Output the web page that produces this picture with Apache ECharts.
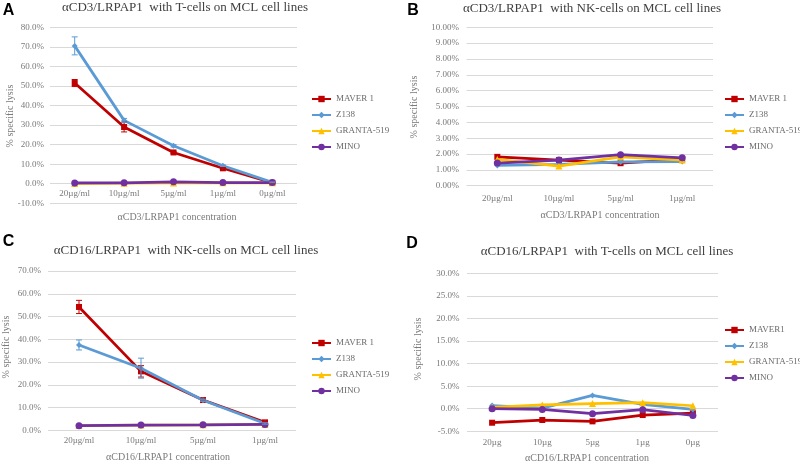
<!DOCTYPE html>
<html><head><meta charset="utf-8">
<script src="https://cdn.jsdelivr.net/npm/echarts@6/dist/echarts.min.js"></script>
<style>html,body{margin:0;padding:0;background:#fff}#c{width:800px;height:462px}</style>
</head><body><div id="c"></div>
<script>
// ---- categories ----
const catA = ['20µg/ml','10µg/ml','5µg/ml','1µg/ml','0µg/ml'];
const catB = ['20µg/ml','10µg/ml','5µg/ml','1µg/ml'];
const catC = ['20µg/ml','10µg/ml','5µg/ml','1µg/ml'];
const catD = ['20µg','10µg','5µg','1µg','0µg'];
// ---- series names ----
const namesABC = ['MAVER 1','Z138','GRANTA-519','MINO'];
const namesD = ['MAVER1','Z138','GRANTA-519','MINO'];
// ---- panel A (% specific lysis) ----
const aMaver = [51.5, 29.0, 16.0, 7.9, 0.5];
const aMaverErr = [1.8, 2.5, 0.5, 0.4, 0.2];
const aZ138 = [70.5, 32.4, 19.4, 9.2, 0.7];
const aZ138Err = [4.6, 1.0, 0.6, 0.4, 0.2];
const aGranta = [0.1, 0.3, 0.4, 0.5, 0.5];
const aMino = [0.4, 0.5, 1.0, 0.6, 0.6];
// ---- panel B ----
const bMaver = [1.82, 1.62, 1.42, 1.66];
const bZ138 = [1.28, 1.35, 1.50, 1.52];
const bGranta = [1.66, 1.24, 1.82, 1.62];
const bMino = [1.43, 1.62, 1.96, 1.76];
// ---- panel C ----
const cMaver = [54.2, 25.9, 13.3, 3.5];
const cMaverErr = [2.9, 2.5, 0.5, 0.3];
const cZ138 = [37.5, 27.3, 13.2, 3.0];
const cZ138Err = [2.2, 4.4, 0.5, 0.3];
const cGranta = [2.1, 2.3, 2.4, 2.6];
const cMino = [2.0, 2.3, 2.4, 2.6];
// ---- panel D ----
const dMaver = [-3.1, -2.5, -2.8, -1.4, -1.0];
const dZ138 = [0.7, 0.15, 2.95, 0.95, -0.15];
const dGranta = [0.3, 0.85, 1.15, 1.35, 0.66];
const dMino = [0.0, -0.15, -1.1, -0.2, -1.5];
// ---- texts ----
const titles = ['αCD3/LRPAP1  with T-cells on MCL cell lines','αCD3/LRPAP1  with NK-cells on MCL cell lines','αCD16/LRPAP1  with NK-cells on MCL cell lines','αCD16/LRPAP1  with T-cells on MCL cell lines'];
const letters = ['A','B','C','D'];
const xNames = ['αCD3/LRPAP1 concentration','αCD3/LRPAP1 concentration','αCD16/LRPAP1 concentration','αCD16/LRPAP1 concentration'];
const yName = '% specific lysis';

const colors = ['#C00000','#5B9BD5','#FFC000','#7030A0'];
const symbols = ['rect','diamond','triangle','circle'];
const symSizes = [6,6,7,7];
const serif = 'Liberation Serif, Times New Roman, serif';
const grey = '#7a7a7a';

const grids = [
  {left:50, top:27.3, width:247, height:176},
  {left:466.5, top:27.3, width:246.5, height:158.4},
  {left:48, top:271, width:248, height:159.3},
  {left:467, top:273.3, width:251, height:158}
];
const yAx = [
  {min:-10,max:80,interval:10,dec:1,margin:6},
  {min:0,max:10,interval:1,dec:2,margin:7.5},
  {min:0,max:70,interval:10,dec:1,margin:7},
  {min:-5,max:30,interval:5,dec:1,margin:7.5}
];
const cats = [catA,catB,catC,catD];
const xMargins = [5.5,8,5.5,7];
const atZero = [true,false,false,false]; // panel A: labels sit at the 0% line

const xAxis = cats.map((c,i)=>({
  type:'category', gridIndex:i, data:c, boundaryGap:true,
  offset: atZero[i] ? -grids[i].height * (0 - yAx[i].min) / (yAx[i].max - yAx[i].min) : 0,
  axisLine:{show:false, onZero:false}, axisTick:{show:false},
  axisLabel:{color:grey, fontFamily:serif, fontSize:9, margin:xMargins[i], interval:0}
}));
const yAxis = yAx.map((y,i)=>({
  type:'value', gridIndex:i, min:y.min, max:y.max, interval:y.interval,
  axisLine:{show:false}, axisTick:{show:false},
  splitLine:{lineStyle:{color:'#d9d9d9', width:1}},
  axisLabel:{color:grey, fontFamily:serif, fontSize:9, margin:y.margin,
    formatter:v=>v.toFixed(y.dec)+'%'}
}));

const panelData = [
  [aMaver,aZ138,aGranta,aMino],
  [bMaver,bZ138,bGranta,bMino],
  [cMaver,cZ138,cGranta,cMino],
  [dMaver,dZ138,dGranta,dMino]
];
const errData = [
  [[aMaver,aMaverErr,0],[aZ138,aZ138Err,1]],
  [],
  [[cMaver,cMaverErr,0],[cZ138,cZ138Err,1]],
  []
];

const series = [];
panelData.forEach((arr,p)=>{
  const names = p===3 ? namesD : namesABC;
  arr.forEach((vals,k)=>{
    series.push({
      type:'line', name:names[k], xAxisIndex:p, yAxisIndex:p, data:vals,
      symbol:symbols[k], symbolSize:symSizes[k], showSymbol:true,
      lineStyle:{color:colors[k], width:2.75},
      itemStyle:{color:colors[k]}, z:2+k, animation:false
    });
  });
  errData[p].forEach(([vals,errs,k])=>{
    series.push({
      type:'custom', name:'err'+p+k, xAxisIndex:p, yAxisIndex:p, z:10+k,
      data: vals.map((v,i)=>[i, v, errs[i]]),
      renderItem:(params,api)=>{
        const x = api.value(0), v = api.value(1), e = api.value(2);
        const hi = api.coord([x, v+e]), lo = api.coord([x, v-e]);
        const w = 3;
        const st = {stroke:colors[k], lineWidth:1};
        return {type:'group', children:[
          {type:'line', shape:{x1:hi[0],y1:hi[1],x2:lo[0],y2:lo[1]}, style:st},
          {type:'line', shape:{x1:hi[0]-w,y1:hi[1],x2:hi[0]+w,y2:hi[1]}, style:st},
          {type:'line', shape:{x1:lo[0]-w,y1:lo[1],x2:lo[0]+w,y2:lo[1]}, style:st}
        ]};
      },
      animation:false, silent:true
    });
  });
});

const legendPos = [{left:311, top:94},{left:724, top:94},{left:311, top:338},{left:724, top:325}];
const legend = legendPos.map((lp,i)=>({
  orient:'vertical', left:lp.left, top:lp.top, padding:0,
  data:(i===3?namesD:namesABC), itemWidth:19, itemHeight:8, itemGap:6,
  textStyle:{color:'#6a6a6a', fontFamily:serif, fontSize:9, lineHeight:10}
}));

const titlePos = [[185,8],[592,8.3],[186,250.7],[607,251.7]];
const letterPos = [[8.5,10.5],[413,10.5],[8.5,241.5],[412,243.5]];
const xNamePos = [[177,217.7],[600,215],[168,457],[587,458]];
const yNamePos = [[10,116],[414.7,107],[6,347],[418,349]];
const graphic = [];
for (let i=0;i<4;i++){
  graphic.push({type:'text', x:titlePos[i][0], y:titlePos[i][1], silent:true,
    style:{text:titles[i], font:'13px '+serif, fill:'#404040', textAlign:'center', textVerticalAlign:'middle', align:'center', verticalAlign:'middle'}});
  graphic.push({type:'text', x:letterPos[i][0], y:letterPos[i][1], silent:true,
    style:{text:letters[i], font:'bold 16px Liberation Sans, Arial, sans-serif', fill:'#000', textAlign:'center', textVerticalAlign:'middle', align:'center', verticalAlign:'middle'}});
  graphic.push({type:'text', x:xNamePos[i][0], y:xNamePos[i][1], silent:true,
    style:{text:xNames[i], font:'10px '+serif, fill:grey, textAlign:'center', textVerticalAlign:'middle', align:'center', verticalAlign:'middle'}});
  graphic.push({type:'text', x:yNamePos[i][0], y:yNamePos[i][1], rotation:Math.PI/2, silent:true,
    style:{text:yName, font:'10px '+serif, fill:grey, textAlign:'center', textVerticalAlign:'middle', align:'center', verticalAlign:'middle'}});
}

const chart = echarts.init(document.getElementById('c'), null, {renderer:'canvas'});
chart.setOption({
  backgroundColor:'#fff', animation:false,
  grid:grids, xAxis, yAxis, series, legend, graphic
});
</script></body></html>
